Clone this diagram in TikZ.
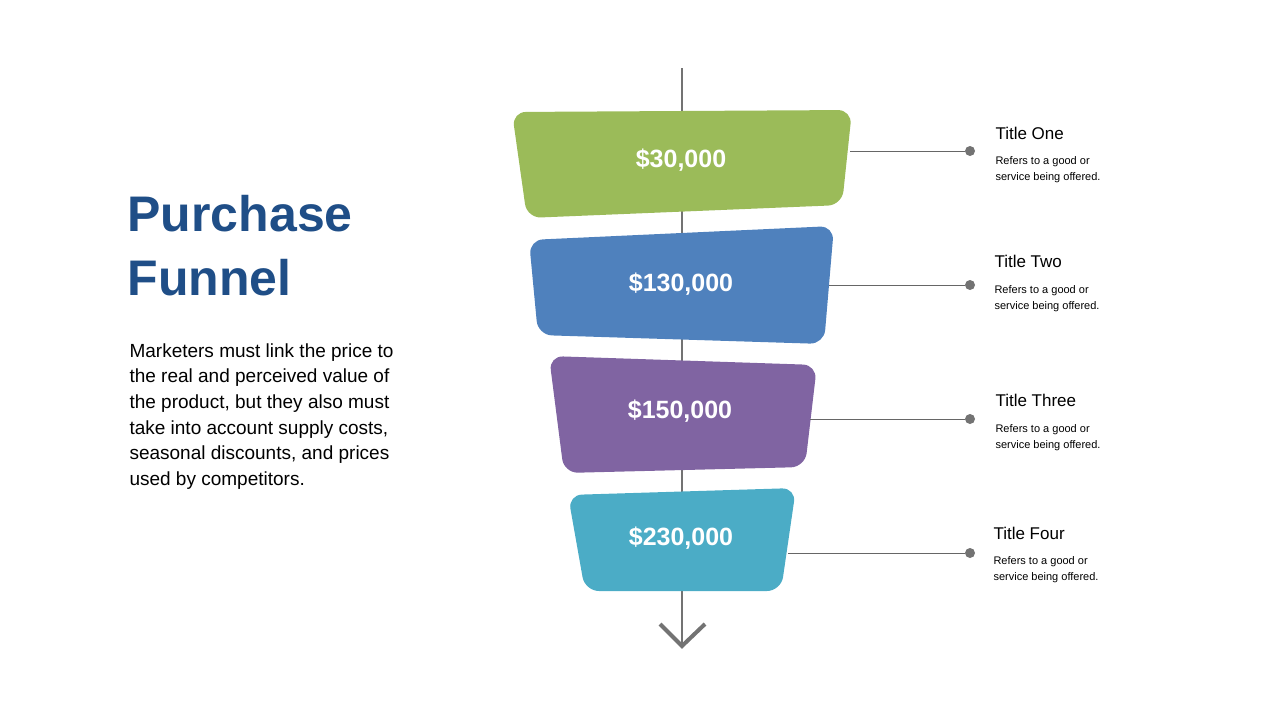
\documentclass[tikz,border=0pt]{standalone}
\usepackage{fontspec}
\setmainfont{Liberation Sans}
\begin{document}
\begin{tikzpicture}[x=1pt,y=-1pt,
  stage/.style={rounded corners=14pt},
  val/.style={text=white,font=\fontsize{25}{25}\selectfont\bfseries},
  lead/.style={draw=gray!80!black,line width=0.7pt},
  dot/.style={circle,fill=gray!90!black,inner sep=0pt,minimum size=10pt},
  ttl/.style={anchor=west,font=\fontsize{17}{17}\selectfont},
  sub/.style={anchor=north west,align=left,font=\fontsize{11}{16}\selectfont}]
\useasboundingbox (0,0) rectangle (1280,720);
\definecolor{cg}{HTML}{9BBB59}\definecolor{cb}{HTML}{4F81BD}
\definecolor{cp}{HTML}{8064A2}\definecolor{ct}{HTML}{4BACC6}
\definecolor{ttlblue}{HTML}{1F4E87}
\coordinate (top) at (682,68); \coordinate (bot) at (682,648);
\draw[gray!90!black,line width=1.5pt] (top) -- (bot);
\draw[gray!90!black,line width=4pt] (660,624) -- (682,646) -- (705,624);
\fill[cg,stage] (512,112) -- (852,110) -- (842,205) -- (527,218) -- cycle;
\fill[cb,stage] (529,240) -- (834,226) -- (824,344) -- (538,335) -- cycle;
\fill[cp,stage] (549,356) -- (817,365) -- (805,467) -- (564,473) -- cycle;
\fill[ct,stage] (568,495) -- (796,488) -- (781,591) -- (585,591) -- cycle;
\node[val] (v1) at (681,160) {\$30,000};
\node[val] (v2) at (681,284) {\$130,000};
\node[val] (v3) at (680,411) {\$150,000};
\node[val] (v4) at (681,538) {\$230,000};
\node[dot] (d1) at (970,151) {}; \coordinate (s1) at (850,151);
\node[dot] (d2) at (970,285) {}; \coordinate (s2) at (829,285);
\node[dot] (d3) at (970,419) {}; \coordinate (s3) at (810,419);
\node[dot] (d4) at (970,553) {}; \coordinate (s4) at (788,553);
\foreach \i in {1,...,4}{\draw[lead] (s\i) -- (d\i);}
\node[ttl] (t1) at (992,133) {Title One};
\node[ttl] (t2) at (991,261) {Title Two};
\node[ttl] (t3) at (992,400) {Title Three};
\node[ttl] (t4) at (990,533) {Title Four};
\foreach \i/\x/\y in {1/992/153,2/991/282,3/992/421,4/990/553}{
 \node[sub] (u\i) at (\x,\y) {Refers to a good or\\service being offered.};}
\node[anchor=north west,align=left,text=ttlblue,font=\fontsize{50}{64}\selectfont\bfseries] (h) at (124,192) {Purchase\\Funnel};
\node[anchor=north west,align=left,font=\fontsize{19}{25.6}\selectfont] (b) at (126,340) {Marketers must link the price to\\the real and perceived value of\\the product, but they also must\\take into account supply costs,\\seasonal discounts, and prices\\used by competitors.};
\end{tikzpicture}
\end{document}
